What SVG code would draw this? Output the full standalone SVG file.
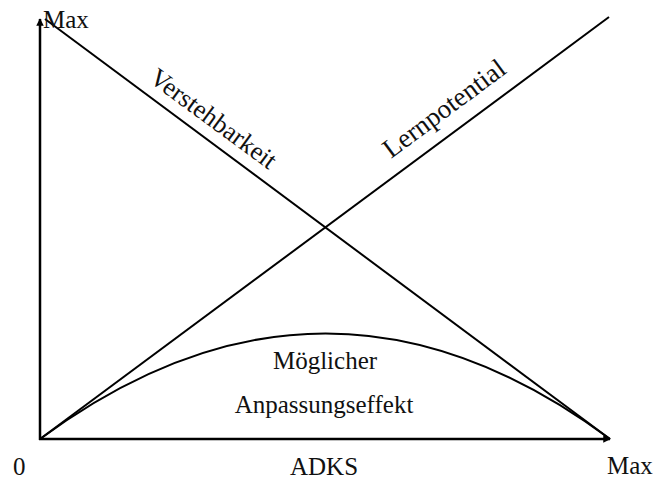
<svg xmlns="http://www.w3.org/2000/svg" width="660" height="479" viewBox="0 0 660 479">
  <style>
    .ln { fill: none; stroke: #000; stroke-width: 2; stroke-linecap: butt; }
    .ax { fill: none; stroke: #000; stroke-width: 2.5; }
    text { font-family: "Liberation Serif", "Times New Roman", serif; font-size: 25px; fill: #111; }
    text.v { font-size: 26px; }
    text.l { font-size: 27px; }
  </style>
  <defs>
    <marker id="arrow" viewBox="0 0 10 10" refX="9" refY="5" markerWidth="3.2" markerHeight="3" orient="auto" markerUnits="strokeWidth">
      <path d="M0,0 L10,5 L0,10 Z" fill="#000"/>
    </marker>
  </defs>
  <rect width="660" height="479" fill="#fff"/>

  <g id="connectors">
    <!-- axes -->
    <line id="y-axis" class="ax" x1="40" y1="440" x2="40" y2="19" marker-end="url(#arrow)"/>
    <line id="x-axis" class="ax" x1="39" y1="439" x2="610" y2="439" marker-end="url(#arrow)"/>
    <!-- falling and rising lines -->
    <line id="verstehbarkeit-line" class="ln" x1="45" y1="19" x2="610" y2="439"/>
    <line id="lernpotential-line" class="ln" x1="40" y1="439" x2="609" y2="17"/>
    <!-- effect curve -->
    <path id="effekt-curve" class="ln" d="M40,439 Q326,228 610,439"/>
  </g>

  <g id="axis-labels">
    <text x="43" y="28">Max</text>
    <text x="13" y="475">0</text>
    <text x="290" y="475">ADKS</text>
    <text x="607" y="474">Max</text>
  </g>

  <g id="verstehbarkeit">
    <text class="v" transform="translate(148,81) rotate(36.4)">Verstehbarkeit</text>
  </g>

  <g id="lernpotential">
    <text class="l" transform="translate(391,159) rotate(-36.6)">Lernpotential</text>
  </g>

  <g id="anpassungseffekt">
    <text x="325" y="369" text-anchor="middle">Möglicher</text>
    <text x="324" y="413" text-anchor="middle">Anpassungseffekt</text>
  </g>
</svg>
